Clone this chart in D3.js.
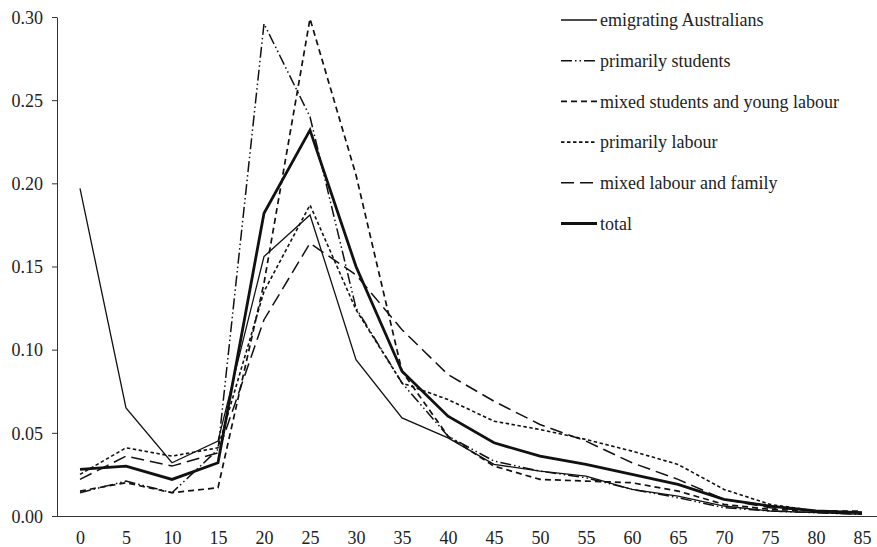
<!DOCTYPE html>
<html>
<head>
<meta charset="utf-8">
<script src="https://cdn.jsdelivr.net/npm/d3@7"></script>
<style>
  body { margin: 0; background: #fff; }
  svg { display: block; }
  .axis text { font-family: "Liberation Serif", "Times New Roman", serif; font-size: 18px; fill: #222; }
  .axis path, .axis line { stroke: #333; }
  .legend text { font-family: "Liberation Serif", "Times New Roman", serif; font-size: 18px; fill: #222; }
</style>
</head>
<body>
<div id="chart"></div>
<script>
var width = 877,
    height = 547;

var ages = ['0', '5', '10', '15', '20', '25', '30', '35', '40', '45', '50', '55', '60', '65', '70', '75', '80', '85'];
var yTicks = [0, 0.05, 0.10, 0.15, 0.20, 0.25, 0.30];

var emigrating = [0.197, 0.065, 0.032, 0.045, 0.156, 0.181, 0.094, 0.059, 0.047, 0.031, 0.027, 0.024, 0.016, 0.012, 0.006, 0.003, 0.002, 0.001];
var students = [0.014, 0.021, 0.014, 0.040, 0.296, 0.240, 0.125, 0.080, 0.048, 0.033, 0.027, 0.023, 0.016, 0.011, 0.005, 0.003, 0.002, 0.001];
var studentsLabour = [0.015, 0.020, 0.014, 0.017, 0.140, 0.299, 0.205, 0.087, 0.048, 0.030, 0.022, 0.021, 0.020, 0.015, 0.007, 0.004, 0.003, 0.003];
var labour = [0.025, 0.041, 0.036, 0.041, 0.135, 0.187, 0.124, 0.080, 0.070, 0.057, 0.052, 0.046, 0.039, 0.031, 0.016, 0.007, 0.003, 0.002];
var labourFamily = [0.022, 0.036, 0.030, 0.038, 0.118, 0.164, 0.145, 0.112, 0.085, 0.069, 0.055, 0.045, 0.032, 0.022, 0.010, 0.005, 0.003, 0.002];
var total = [0.028, 0.030, 0.022, 0.032, 0.182, 0.232, 0.150, 0.087, 0.060, 0.044, 0.036, 0.031, 0.025, 0.019, 0.010, 0.006, 0.003, 0.002];

var series = [
    { name: 'emigrating Australians', values: emigrating, width: 1.3, dash: null },
    { name: 'primarily students', values: students, width: 1.5, dash: '11,3,1.5,3,1.5,3' },
    { name: 'mixed students and young labour', values: studentsLabour, width: 1.7, dash: '6,4' },
    { name: 'primarily labour', values: labour, width: 1.6, dash: '3.5,2.5' },
    { name: 'mixed labour and family', values: labourFamily, width: 1.5, dash: '13,6' },
    { name: 'total', values: total, width: 2.8, dash: null }
];

var plotLeft = 57, plotTop = 17, plotBottom = 516;

var x = d3.scalePoint()
    .domain(ages)
    .range([plotLeft, plotLeft + 46 * 18])
    .padding(0.5);

var y = d3.scaleLinear()
    .domain([0, 0.3])
    .range([plotBottom, plotTop]);

var svg = d3.select('#chart').append('svg')
    .attr('width', width)
    .attr('height', height);

// y axis
var yAxis = svg.append('g')
    .attr('class', 'axis')
    .attr('transform', 'translate(' + plotLeft + ',0)')
    .call(d3.axisLeft(y).tickValues(yTicks).tickFormat(d3.format('.2f')).tickSize(5).tickSizeOuter(0));
yAxis.attr('font-family', null).attr('font-size', null);
yAxis.selectAll('text').attr('x', -14).attr('dy', '0.35em');

// x axis, labels only
var xAxis = svg.append('g')
    .attr('class', 'axis')
    .attr('transform', 'translate(0,' + plotBottom + ')')
    .call(d3.axisBottom(x).tickSize(0).tickPadding(15));
xAxis.attr('font-family', null).attr('font-size', null);
xAxis.select('.domain').attr('d', 'M' + plotLeft + ',0.5H' + width);

var line = d3.line()
    .x(function (d, i) { return x(ages[i]); })
    .y(function (d) { return y(d); });

svg.selectAll('.series')
    .data(series)
    .enter().append('path')
    .attr('class', 'series')
    .attr('fill', 'none')
    .attr('stroke', '#111')
    .attr('stroke-width', function (d) { return d.width; })
    .attr('stroke-dasharray', function (d) { return d.dash; })
    .attr('d', function (d) { return line(d.values); });

// legend
var legend = svg.append('g')
    .attr('class', 'legend')
    .attr('transform', 'translate(561,20)');

var item = legend.selectAll('g')
    .data(series)
    .enter().append('g')
    .attr('transform', function (d, i) { return 'translate(0,' + (i * 40.7) + ')'; });

item.append('line')
    .attr('x1', 0).attr('x2', 36)
    .attr('y1', 0).attr('y2', 0)
    .attr('stroke', '#111')
    .attr('stroke-width', function (d) { return d.width; })
    .attr('stroke-dasharray', function (d) { return d.dash; });

item.append('text')
    .attr('x', 39)
    .attr('dy', '0.35em')
    .text(function (d) { return d.name; });
</script>
</body>
</html>
